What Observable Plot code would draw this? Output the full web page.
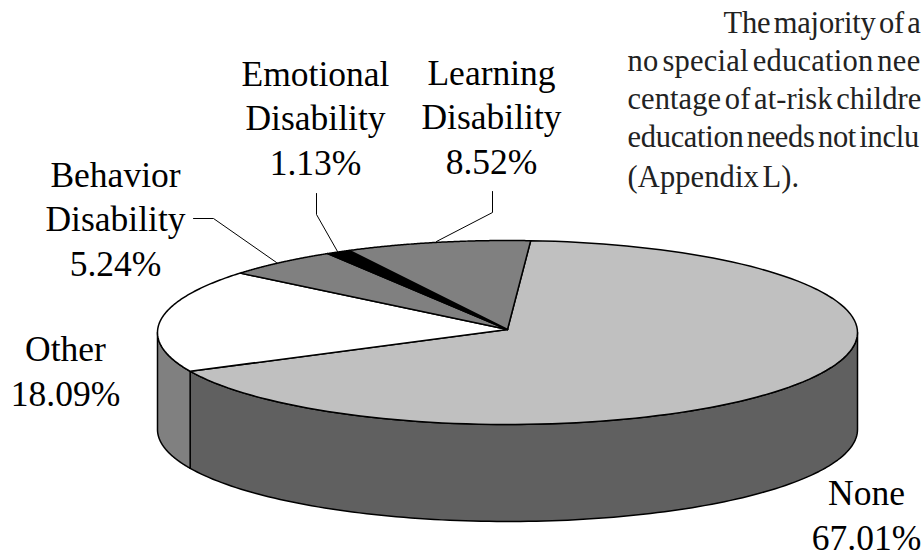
<!DOCTYPE html>
<html><head><meta charset="utf-8">
<script src="https://cdn.jsdelivr.net/npm/d3@7"></script>
<script src="https://cdn.jsdelivr.net/npm/@observablehq/plot@0.6"></script>
<style>
html,body{margin:0;padding:0;background:#fff;overflow:hidden}
svg{display:block}
.body-text text{letter-spacing:-.2px;word-spacing:-4px}
.body-text text:nth-child(2){letter-spacing:.25px}
.body-text text:nth-child(3){letter-spacing:.07px}
.body-text text:nth-child(4){letter-spacing:-.3px}
.body-text text:nth-child(5){letter-spacing:.1px}
</style></head><body><script>
// Data
const categories = ["None", "Other", "Behavior Disability", "Emotional Disability", "Learning Disability"];
const percents = [67.01, 18.09, 5.24, 1.13, 8.52];
const labelLines = [["None"], ["Other"], ["Behavior", "Disability"], ["Emotional", "Disability"], ["Learning", "Disability"]];
const topColors = ["#c0c0c0", "#ffffff", "#808080", "#000000", "#808080"];
const sideColors = ["#606060", "#808080", "#808080", "#000000", "#808080"];
const bodyLines = ["The majority of a", "no special education nee", "centage of at-risk childre", "education needs not inclu", "(Appendix L)."];

// Layout
const cx = 507, cy = 332, rx = 350, ry = 92, depthPx = 97, hubLiftPx = 3, startDeg = 3.8;
const ux = px => (px - cx) / rx, uy = py => (cy - py) / ry;
const labelX = [866, 65, 115, 315, 491], labelBase = [549, 405, 275, 174, 173];
const bodyX = [723, 627, 627, 627, 627], bodyBase = [32, 70, 108, 146, 186];
const leaders = [
  {name: "Behavior", pts: [[193, 218], [213, 218], [276, 262]]},
  {name: "Emotional", pts: [[316, 193], [316, 214], [337, 251]]},
  {name: "Learning", pts: [[492, 191], [492, 212], [436, 241]]}
];

const rad = d => d * Math.PI / 180, total = d3.sum(percents);
let a0 = startDeg;
const spans = percents.map((p, i) => { const s = {i, from: a0, to: a0 + p / total * 360}; a0 = s.to; return s; });
const steps = (from, to) => d3.range(0, 121).map(k => from + (to - from) * k / 120);
const rim = (t, drop = 0) => ({x: Math.sin(rad(t)), y: Math.cos(rad(t)) - drop});

const tops = [], sides = [];
for (const s of spans) {
  const hub = {x: 0, y: hubLiftPx / ry};
  for (const p of [hub, ...steps(s.from, s.to).map(t => rim(t)), hub])
    tops.push({...p, z: categories[s.i], fill: topColors[s.i]});
  // front wall: visible only for the lower half of the disc (90..270 deg)
  const a = Math.max(s.from, 90), b = Math.min(s.to, 270);
  if (a < b) {
    const ts = steps(a, b), d = depthPx / ry;
    const ring = [...ts.map(t => rim(t)), ...ts.slice().reverse().map(t => rim(t, d))];
    ring.push(ring[0]);
    for (const p of ring) sides.push({...p, z: categories[s.i], fill: sideColors[s.i]});
  }
}
const leaderRows = leaders.flatMap(l => l.pts.map(([x, y]) => ({x: ux(x), y: uy(y), z: l.name})));
const labels = categories.map((c, i) => ({
  x: ux(labelX[i]), y: uy(labelBase[i]),
  text: [...labelLines[i], percents[i].toFixed(2) + "%"].join("\n")
}));
const body = bodyLines.map((t, i) => ({x: ux(bodyX[i]), y: uy(bodyBase[i]), text: t}));

const shape = {x: "x", y: "y", z: "z", fill: "fill", stroke: "#000", strokeWidth: 1.5, strokeLinejoin: "round"};
const chart = Plot.plot({
  width: 921, height: 554, margin: 0,
  x: {domain: [-1, 1], range: [cx - rx, cx + rx], axis: null},
  y: {domain: [-1, 1], range: [cy + ry, cy - ry], axis: null},
  color: {type: "identity"},
  style: {fontFamily: "'Liberation Serif', serif", background: "#fff", overflow: "hidden"},
  marks: [
    Plot.line(sides, shape),
    Plot.line(tops, shape),
    Plot.line(leaderRows, {x: "x", y: "y", z: "z", stroke: "#000", strokeWidth: 1}),
    Plot.text(labels, {x: "x", y: "y", text: "text", fontSize: 35.5, lineHeight: 1.24, textAnchor: "middle", lineAnchor: "bottom", fill: "#000"}),
    Plot.text(body, {x: "x", y: "y", text: "text", fontSize: 30.5, textAnchor: "start", lineAnchor: "bottom", fill: "#222", className: "body-text"})
  ]
});
document.body.appendChild(chart);
</script></body></html>
